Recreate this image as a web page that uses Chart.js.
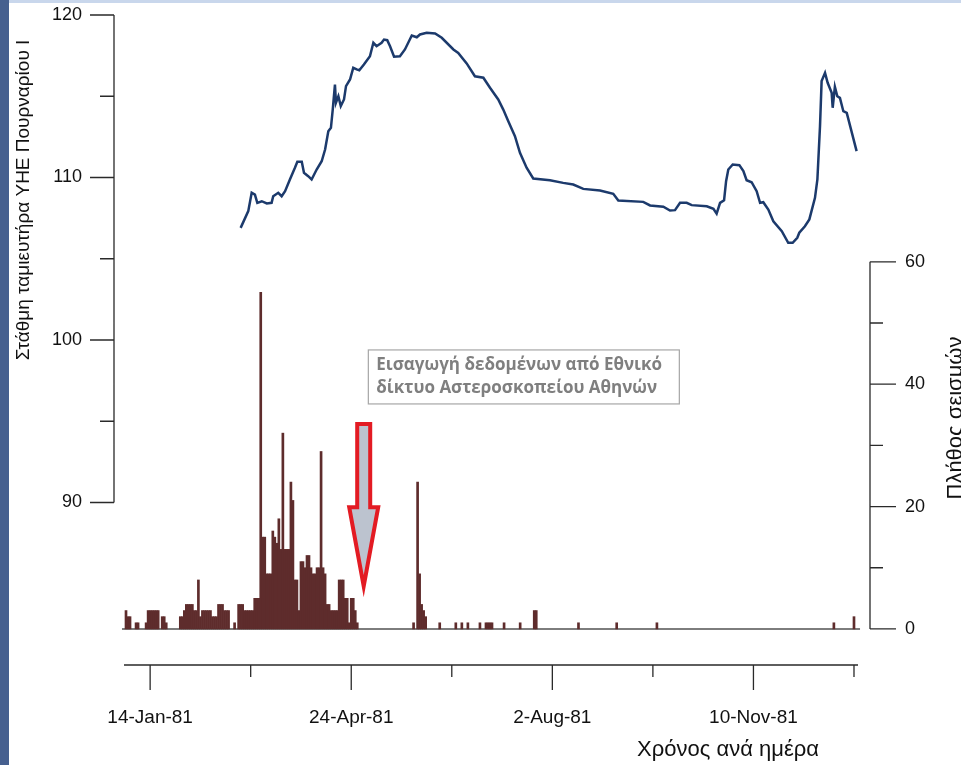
<!DOCTYPE html>
<html>
<head>
<meta charset="utf-8">
<script src="https://cdn.jsdelivr.net/npm/chart.js@4.4.1/dist/chart.umd.min.js"></script>
<style>
  html, body { margin: 0; padding: 0; background: #46608f; }
  #wrap { width: 961px; height: 765px; }
</style>
</head>
<body>
<div id="wrap"><canvas id="chart" width="961" height="765"></canvas></div>
<script>
// days counted from 1-Jan-81 (day 0)
const levelDays = [58, 61.8, 63.5, 65.1, 66.3, 68.5, 71, 73.4, 74.2, 76.7, 78.4, 80.1, 82.5, 85, 86.2, 88.4,
  89.5, 91.6, 93.3, 95.8, 98.3, 100, 101.6, 102.9, 103.8, 104.9, 105.4, 106.6, 107.8, 109.4, 110.4, 112.4,
  114, 115.7, 117, 119.3, 122.3, 124, 125.6, 128.1, 129.3, 130.9, 132.3, 134.3, 137.2, 139.7, 143.1, 145.6,
  147.2, 150.5, 154.7, 158, 163.8, 166.2, 170.4, 174.5, 178.7, 182, 186.1, 188.6, 191.1, 194.4, 196.9, 200.2,
  203.5, 211.8, 218.4, 223.4, 228.4, 236.7, 243.3, 245.8, 258.2, 261.6, 268.2, 271.5, 274, 276.5, 279.8, 282.3,
  289.8, 293.1, 294.7, 296.4, 298.4, 299.4, 300.5, 302.7, 306, 308, 309.6, 312.1, 314.6, 316.3, 317.9, 320.4,
  322.9, 327.1, 330.3, 332.5, 334.8, 335.8, 338.6, 340.8, 343.6, 344.8, 346.1, 346.9, 348.6, 349.9, 351.9, 352.4,
  353.5, 354.7, 356, 357.7, 359.4, 364.3];
const levelValues = [106.9, 107.93, 109.06, 108.95, 108.44, 108.54, 108.4, 108.44, 108.85, 109.06, 108.85, 109.16, 109.88, 110.6, 110.97, 110.97,
  110.29, 110.08, 109.88, 110.49, 111.0, 111.72, 112.85, 113.06, 114.18, 115.72, 114.6, 115.0, 114.39, 114.8, 115.62, 116.03,
  116.75, 116.65, 116.6, 116.95, 117.46, 118.29, 118.08, 118.29, 118.49, 118.45, 118.08, 117.43, 117.46, 117.88, 118.74, 118.63,
  118.8, 118.9, 118.86, 118.6, 117.88, 117.67, 117.02, 116.23, 116.14, 115.52, 114.8, 114.18, 113.46, 112.54, 111.52, 110.6,
  109.94, 109.83, 109.67, 109.57, 109.3, 109.2, 109.0, 108.58, 108.5, 108.28, 108.2, 107.97, 107.99, 108.44, 108.44, 108.3,
  108.23, 108.07, 107.77, 108.44, 108.6, 109.77, 110.49, 110.8, 110.76, 110.39, 109.83, 109.71, 109.16, 108.44, 108.48, 108.03,
  107.31, 106.7, 105.98, 105.98, 106.29, 106.6, 107.0, 107.42, 108.75, 109.88, 113.16, 115.93, 116.44, 115.83, 115.21, 114.29,
  115.58, 115.0, 114.9, 114.08, 113.98, 111.62];

const quakeDays = [1, 2, 3, 6, 7, 11, 12, 13, 14, 15, 16, 17, 19, 20, 21,
  28, 29, 30, 31, 32, 33, 34, 35, 36, 37, 38, 39, 40, 41, 42, 43, 44, 45, 46, 47, 48, 49, 50, 51, 52, 55,
  57, 58, 59, 60, 61, 62, 63, 64, 65, 66, 67, 68, 69, 70, 71, 72, 73, 74, 75, 76, 77, 78, 79, 80, 81, 82, 83, 84, 85, 86,
  87, 88, 89, 90, 91, 92, 93, 94, 95, 96, 97, 98, 99, 100, 101, 102, 103, 104, 105, 106, 107, 108, 109, 110, 111, 112,
  113, 114, 115, 116, 144, 146, 147, 148, 149, 150, 157, 165, 168, 171, 177, 180, 181, 182, 183, 189, 197, 204, 205,
  226, 245, 265, 353, 363];
const quakeCounts = [3, 2, 2, 1, 1, 1, 3, 3, 3, 3, 3, 3, 2, 2, 1,
  2, 2, 3, 4, 4, 4, 4, 3, 3, 8, 2, 3, 3, 3, 3, 3, 2, 2, 2, 4, 4, 4, 3, 3, 3, 1,
  4, 4, 4, 3, 3, 3, 3, 3, 5, 5, 5, 55, 15, 15, 9, 9, 9, 16, 15, 14, 18, 13, 32, 13, 13, 13, 24, 21, 8, 8,
  3, 11, 11, 10, 12, 12, 10, 9, 9, 10, 10, 29, 10, 9, 4, 4, 3, 3, 3, 3, 8, 8, 8, 5, 5, 1,
  5, 5, 3, 1, 1, 24, 9, 4, 3, 2, 1, 1, 1, 1, 1, 1, 1, 1, 1, 1, 1, 3, 3,
  1, 1, 1, 1, 2];

const xTickDays = [13, 113, 213, 313];
const xTickLabels = ['14-Jan-81', '24-Apr-81', '2-Aug-81', '10-Nov-81'];
const xMinorDays = [63, 163, 263, 363];
const levelTicks = [90, 100, 110, 120];
const levelMinor = [95, 105, 115];
const countTicks = [0, 20, 40, 60];
const countMinor = [10, 30, 50];

const FONT = "'Liberation Sans', Arial, sans-serif";
const AXIS_COLOR = '#2a2a2a';

const noPad = (s) => { s.paddingTop = 0; s.paddingBottom = 0; s.paddingLeft = 0; s.paddingRight = 0; };

const frame = {
  id: 'frame',
  beforeDraw(chart) {
    const c = chart.ctx;
    c.save();
    c.fillStyle = '#46608f';
    c.fillRect(0, 0, chart.width, chart.height);
    c.fillStyle = '#c9d7ec';
    c.fillRect(9, 0, chart.width - 9, 3);
    c.fillStyle = '#ffffff';
    c.fillRect(9, 3, chart.width - 9, chart.height - 3);
    c.restore();
  },
  beforeDatasetsDraw(chart) {
    const { ctx: c, scales: { x, yR } } = chart;
    c.save();
    c.strokeStyle = '#7d7d7d';
    c.lineWidth = 2;
    c.beginPath();
    c.moveTo(x.getPixelForValue(-1), yR.getPixelForValue(0));
    c.lineTo(x.getPixelForValue(366), yR.getPixelForValue(0));
    c.stroke();
    c.restore();
  },
  afterDatasetsDraw(chart) {
    const { ctx: c, scales: { x, yR } } = chart;
    c.save();
    // note box
    const bx = x.getPixelForValue(121.5), by = yR.getPixelForValue(45.6);
    c.fillStyle = '#fff';
    c.strokeStyle = '#a6a6a6';
    c.lineWidth = 1.2;
    c.fillRect(bx, by, 311, 54);
    c.strokeRect(bx, by, 311, 54);
    c.fillStyle = '#7f7f7f';
    c.font = "bold 17px 'Open Sans', sans-serif";
    c.textAlign = 'left';
    c.textBaseline = 'middle';
    c.fillText('Εισαγωγή δεδομένων από Εθνικό', bx + 8, by + 15);
    c.fillText('δίκτυο Αστεροσκοπείου Αθηνών', bx + 8, by + 38);
    // arrow
    const ax = x.getPixelForValue(119.2);
    const top = yR.getPixelForValue(33.5), neck = yR.getPixelForValue(19.9), tip = yR.getPixelForValue(7);
    c.beginPath();
    c.moveTo(ax - 6.5, top);
    c.lineTo(ax + 6.5, top);
    c.lineTo(ax + 6.5, neck);
    c.lineTo(ax + 14.5, neck);
    c.lineTo(ax, tip);
    c.lineTo(ax - 14.5, neck);
    c.lineTo(ax - 6.5, neck);
    c.closePath();
    c.fillStyle = '#bcc3cf';
    c.fill();
    c.strokeStyle = '#e31b23';
    c.lineWidth = 4;
    c.lineJoin = 'miter';
    c.stroke();
    c.restore();
  },
  afterDraw(chart) {
    const { ctx: c, scales: { x, yL, yR } } = chart;
    const L = chart.chartArea.left, R = chart.chartArea.right, B = chart.chartArea.bottom;
    c.save();
    c.strokeStyle = AXIS_COLOR;
    c.lineWidth = 1.3;
    c.beginPath();
    // left axis
    c.moveTo(L, yL.getPixelForValue(120)); c.lineTo(L, yL.getPixelForValue(90));
    levelTicks.forEach(v => { const p = yL.getPixelForValue(v); c.moveTo(L - 24, p); c.lineTo(L, p); });
    levelMinor.forEach(v => { const p = yL.getPixelForValue(v); c.moveTo(L - 14, p); c.lineTo(L, p); });
    // right axis
    c.moveTo(R, yR.getPixelForValue(60)); c.lineTo(R, yR.getPixelForValue(0));
    countTicks.forEach(v => { const p = yR.getPixelForValue(v); c.moveTo(R, p); c.lineTo(R + 26, p); });
    countMinor.forEach(v => { const p = yR.getPixelForValue(v); c.moveTo(R, p); c.lineTo(R + 13, p); });
    // bottom axis
    c.moveTo(x.getPixelForValue(0), B); c.lineTo(x.getPixelForValue(365), B);
    xTickDays.forEach(v => { const p = x.getPixelForValue(v); c.moveTo(p, B); c.lineTo(p, B + 25); });
    xMinorDays.forEach(v => { const p = x.getPixelForValue(v); c.moveTo(p, B); c.lineTo(p, B + 12); });
    c.stroke();

    // axis titles
    c.fillStyle = '#111';
    c.textBaseline = 'alphabetic';
    c.font = '19px ' + FONT;
    c.save();
    c.translate(29, 200);
    c.rotate(-Math.PI / 2);
    c.textAlign = 'center';
    c.fillText('Στάθμη ταμιευτήρα ΥΗΕ Πουρναρίου Ι', 0, 0);
    c.restore();
    c.font = '22px ' + FONT;
    c.save();
    c.translate(962, 418);
    c.rotate(-Math.PI / 2);
    c.textAlign = 'center';
    c.fillText('Πλήθος σεισμών', 0, 0);
    c.restore();
    c.textAlign = 'center';
    c.fillText('Χρόνος ανά ημέρα', 728, 756);
    c.restore();
  }
};

new Chart(document.getElementById('chart'), {
  type: 'bar',
  data: {
    datasets: [
      {
        type: 'line',
        label: 'Στάθμη',
        data: levelDays.map((d, i) => ({ x: d, y: levelValues[i] })),
        xAxisID: 'x',
        yAxisID: 'yL',
        borderColor: '#1c3a6c',
        borderWidth: 2.5,
        pointRadius: 0,
        tension: 0,
        fill: false
      },
      {
        type: 'bar',
        label: 'Σεισμοί',
        data: quakeDays.map((d, i) => ({ x: d, y: quakeCounts[i] })),
        xAxisID: 'x',
        yAxisID: 'yR',
        backgroundColor: '#5e2c2c',
        borderWidth: 0,
        barPercentage: 1,
        categoryPercentage: 1
      }
    ]
  },
  options: {
    responsive: false,
    devicePixelRatio: 1,
    animation: false,
    layout: { padding: { top: 15, left: 0, right: 0, bottom: 0 } },
    plugins: { legend: { display: false }, tooltip: { enabled: false } },
    scales: {
      x: {
        type: 'linear',
        position: 'bottom',
        min: -4.97,
        max: 370.96,
        offset: false,
        grid: { display: false, drawTicks: false },
        border: { display: false },
        afterBuildTicks: (s) => { s.ticks = xTickDays.map(v => ({ value: v })); },
        afterFit: (s) => { s.height = 100; noPad(s); },
        ticks: {
          autoSkip: false,
          maxRotation: 0,
          padding: 41,
          color: '#111',
          font: { family: FONT, size: 19 },
          callback: (v, i) => xTickLabels[i]
        }
      },
      yL: {
        type: 'linear',
        position: 'left',
        min: 80,
        max: 120,
        grid: { display: false, drawTicks: false },
        border: { display: false },
        afterBuildTicks: (s) => { s.ticks = levelTicks.map(v => ({ value: v })); },
        afterFit: (s) => { s.width = 114; noPad(s); },
        ticks: { padding: 32, color: '#111', font: { family: FONT, size: 18 } }
      },
      yR: {
        type: 'linear',
        position: 'right',
        min: -5.9,
        max: 100.35,
        grid: { display: false, drawTicks: false },
        border: { display: false },
        afterBuildTicks: (s) => { s.ticks = countTicks.map(v => ({ value: v })); },
        afterFit: (s) => { s.width = 91; noPad(s); },
        ticks: { padding: 35, color: '#111', font: { family: FONT, size: 18 } }
      }
    }
  },
  plugins: [frame]
});
</script>
</body>
</html>
